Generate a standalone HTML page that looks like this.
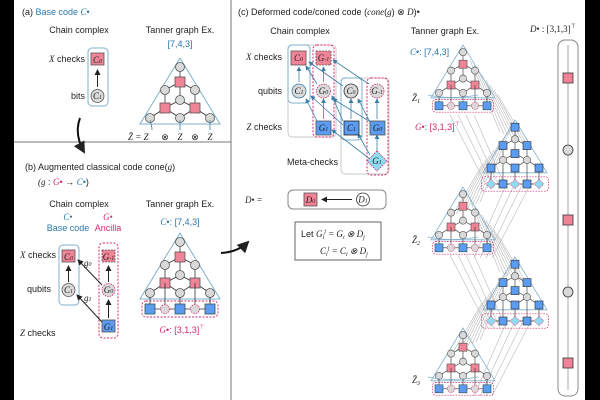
<!DOCTYPE html>
<html><head><meta charset="utf-8"><style>
html,body{margin:0;padding:0;background:#fff}
svg{display:block}
text{font-family:"Liberation Sans",sans-serif;font-size:9px;fill:#222}
.it{font-family:"Liberation Serif",serif;font-style:italic}
.b{fill:#2a78aa}.p{fill:#d42a70}
</style></head><body>
<svg width="600" height="400" viewBox="0 0 600 400" xmlns="http://www.w3.org/2000/svg">
<defs>
<marker id="ah" markerWidth="6" markerHeight="6" refX="5" refY="3" orient="auto"><path d="M0,0L6,3L0,6z" fill="#222"/></marker>
<marker id="ab" markerWidth="6" markerHeight="6" refX="5" refY="3" orient="auto"><path d="M0,0L6,3L0,6z" fill="#3b7fa6"/></marker>
<g id="tc">
<path d="M0,0L-40,66L40,66Z" fill="none" stroke="#7fb0cc" stroke-width="1"/>
<g stroke="#333" stroke-width="0.8">
<line x1="0" y1="9" x2="0" y2="42"/><line x1="0" y1="24" x2="-15" y2="32"/><line x1="0" y1="24" x2="15" y2="32"/>
<line x1="-15" y1="32" x2="-15" y2="50"/><line x1="15" y1="32" x2="15" y2="50"/>
<line x1="0" y1="42" x2="-15" y2="50"/><line x1="0" y1="42" x2="15" y2="50"/>
<line x1="-15" y1="50" x2="-30" y2="60"/><line x1="-15" y1="50" x2="0" y2="60"/>
<line x1="15" y1="50" x2="0" y2="60"/><line x1="15" y1="50" x2="30" y2="60"/>
</g>
<g fill="#d9d9d9" stroke="#555" stroke-width="0.8">
<circle cx="0" cy="9" r="4.5"/><circle cx="-15" cy="32" r="4.5"/><circle cx="15" cy="32" r="4.5"/><circle cx="0" cy="42" r="4.5"/>
<circle cx="-30" cy="60" r="4.5"/><circle cx="0" cy="60" r="4.5"/><circle cx="30" cy="60" r="4.5"/>
</g>
<g fill="#f08497" stroke="#555" stroke-width="0.8">
<rect x="-5" y="19" width="10" height="10"/><rect x="-20" y="45" width="10" height="10"/><rect x="10" y="45" width="10" height="10"/>
</g>
</g>
<g id="gbox">
<rect x="-38" y="68" width="76" height="16" rx="4" fill="none" stroke="#d42a70" stroke-dasharray="2,1.5" stroke-width="0.9"/>
<g stroke="#333" stroke-width="0.8"><line x1="-30" y1="64" x2="-30" y2="76"/><line x1="0" y1="64" x2="0" y2="76"/><line x1="30" y1="64" x2="30" y2="76"/><line x1="-30" y1="76" x2="30" y2="76"/><line x1="-15" y1="50" x2="-15" y2="76"/><line x1="15" y1="50" x2="15" y2="76"/></g>
<g fill="#5b9bf0" stroke="#355" stroke-width="0.8"><rect x="-35" y="71" width="10" height="10"/><rect x="-5" y="71" width="10" height="10"/><rect x="25" y="71" width="10" height="10"/></g>
<g fill="#d9d9d9" stroke="#d42a70" stroke-width="0.8" stroke-dasharray="1.5,1"><circle cx="-15" cy="76" r="4.5"/><circle cx="15" cy="76" r="4.5"/></g>
</g>
<g id="tg">
<path d="M0,0L-40,66L40,66Z" fill="none" stroke="#7fb0cc" stroke-width="1"/>
<g stroke="#333" stroke-width="0.8">
<line x1="0" y1="9" x2="0" y2="42"/><line x1="0" y1="24" x2="-15" y2="32"/><line x1="0" y1="24" x2="15" y2="32"/>
<line x1="-15" y1="32" x2="-15" y2="80"/><line x1="15" y1="32" x2="15" y2="80"/>
<line x1="0" y1="42" x2="-15" y2="50"/><line x1="0" y1="42" x2="15" y2="50"/>
<line x1="-15" y1="50" x2="-30" y2="60"/><line x1="-15" y1="50" x2="0" y2="60"/>
<line x1="15" y1="50" x2="0" y2="60"/><line x1="15" y1="50" x2="30" y2="60"/>
<line x1="-30" y1="60" x2="-30" y2="80"/><line x1="0" y1="60" x2="0" y2="80"/><line x1="30" y1="60" x2="30" y2="80"/>
<line x1="-30" y1="80" x2="30" y2="80"/>
</g>
<g fill="#d9d9d9" stroke="#555" stroke-width="0.8"><circle cx="0" cy="24" r="4.5"/><circle cx="-15" cy="50" r="4.5"/><circle cx="15" cy="50" r="4.5"/><circle cx="0" cy="42" r="4.5"/></g>
<g fill="#5b9bf0" stroke="#333" stroke-width="0.8">
<rect x="-5" y="4" width="10" height="10"/><rect x="-20" y="27" width="10" height="10"/><rect x="10" y="27" width="10" height="10"/><rect x="-5" y="37" width="10" height="10"/>
<rect x="-35" y="55" width="10" height="10"/><rect x="-5" y="55" width="10" height="10"/><rect x="25" y="55" width="10" height="10"/>
<rect x="-20" y="75" width="10" height="10"/><rect x="10" y="75" width="10" height="10"/>
</g>
<rect x="-42" y="71" width="84" height="18" rx="4" fill="none" stroke="#d42a70" stroke-dasharray="2,1.5" stroke-width="0.9"/>
<g fill="#8fdcf0" stroke="#d42a70" stroke-width="0.7" stroke-dasharray="1.5,1"><path d="M-30,74L-24,80L-30,86L-36,80Z"/><path d="M0,74L6,80L0,86L-6,80Z"/><path d="M30,74L36,80L30,86L24,80Z"/></g>
</g>
<g id="fan" stroke="#b9b9b9" stroke-width="0.6">
<line x1="0" y1="0" x2="30" y2="72"/><line x1="4" y1="5" x2="34" y2="74"/><line x1="8" y1="10" x2="38" y2="76"/><line x1="12" y1="15" x2="42" y2="78"/><line x1="16" y1="20" x2="46" y2="80"/><line x1="20" y1="25" x2="50" y2="82"/><line x1="24" y1="30" x2="54" y2="84"/><line x1="28" y1="35" x2="58" y2="86"/><line x1="-20" y1="55" x2="18" y2="128"/><line x1="-12" y1="55" x2="24" y2="128"/><line x1="-4" y1="55" x2="30" y2="128"/><line x1="4" y1="55" x2="36" y2="128"/>
</g>
</defs>

<rect x="0" y="0" width="14" height="400" fill="#000"/>
<rect x="585" y="0" width="15" height="400" fill="#000"/>
<line x1="14" y1="142" x2="231" y2="142" stroke="#777" stroke-width="1"/>
<line x1="231" y1="0" x2="231" y2="400" stroke="#777" stroke-width="1"/>

<!-- (a) -->
<text x="22" y="15" font-size="10">(a) <tspan class="b">Base code </tspan><tspan class="it b">C</tspan><tspan class="b">•</tspan></text>
<text x="79" y="33" text-anchor="middle">Chain complex</text>
<text x="180" y="33" text-anchor="middle">Tanner graph Ex.</text>
<text x="180" y="47" text-anchor="middle" class="b">[7,4,3]</text>
<rect x="88" y="48" width="20" height="58" rx="4" fill="none" stroke="#7fb0cc"/>
<rect x="91" y="53" width="13" height="12" fill="#f08497" stroke="#555" stroke-width="0.8"/>
<text x="97.5" y="63" text-anchor="middle" class="it" font-size="8">C<tspan font-size="6">0</tspan></text>
<circle cx="97.5" cy="96" r="6.5" fill="#d9d9d9" stroke="#555" stroke-width="0.8"/>
<text x="97.5" y="99" text-anchor="middle" class="it" font-size="8">C<tspan font-size="6">1</tspan></text>
<line x1="97.5" y1="87" x2="97.5" y2="70" stroke="#222" marker-end="url(#ah)"/>
<text x="85" y="62" text-anchor="end"><tspan class="it">X</tspan> checks</text>
<text x="85" y="99" text-anchor="end">bits</text>
<use href="#tc" x="180" y="58"/>
<g stroke="#3b7fa6" stroke-width="0.8" fill="none"><path d="M150,120Q152,126 152,130"/><path d="M180,120L180,130"/><path d="M210,120Q210,126 210,130"/></g>
<text x="128" y="140" class="it">Z̄ = Z</text>
<text x="165" y="140" text-anchor="middle">⊗</text>
<text x="180" y="140" text-anchor="middle" class="it">Z</text>
<text x="195" y="140" text-anchor="middle">⊗</text>
<text x="210" y="140" text-anchor="middle" class="it">Z</text>
<path d="M80,118 Q74,134 84,152" fill="none" stroke="#111" stroke-width="2" marker-end="url(#ah)"/>

<!-- (b) -->
<text x="25" y="170">(b) Augmented classical code  cone(<tspan class="it">g</tspan>)</text>
<text x="38" y="185"><tspan class="it">(g</tspan> : <tspan class="it p">G</tspan><tspan class="p">•</tspan> → <tspan class="it b">C</tspan><tspan class="b">•</tspan>)</text>
<text x="79" y="207" text-anchor="middle">Chain complex</text>
<text x="180" y="207" text-anchor="middle">Tanner graph Ex.</text>
<text x="68" y="220" text-anchor="middle" class="it b">C<tspan font-style="normal">•</tspan></text>
<text x="68" y="231" text-anchor="middle" class="b">Base code</text>
<text x="108" y="220" text-anchor="middle" class="it p">G<tspan font-style="normal">•</tspan></text>
<text x="108" y="231" text-anchor="middle" class="p">Ancilla</text>
<text x="20" y="258"><tspan class="it">X</tspan> checks</text>
<text x="27" y="292">qubits</text>
<text x="20" y="336"><tspan class="it">Z</tspan> checks</text>
<rect x="59" y="245" width="20" height="60" rx="4" fill="none" stroke="#7fb0cc"/>
<rect x="62" y="250" width="13" height="12" fill="#f08497" stroke="#555" stroke-width="0.8"/>
<text x="68.5" y="260" text-anchor="middle" class="it" font-size="8">C<tspan font-size="6">0</tspan></text>
<circle cx="68.5" cy="290" r="6.5" fill="#d9d9d9" stroke="#555" stroke-width="0.8"/>
<text x="68.5" y="293" text-anchor="middle" class="it" font-size="8">C<tspan font-size="6">1</tspan></text>
<line x1="68.5" y1="282" x2="68.5" y2="266" stroke="#222" marker-end="url(#ah)"/>
<rect x="99" y="243" width="19" height="95" rx="4" fill="none" stroke="#d42a70" stroke-dasharray="2,1.5"/>
<rect x="102" y="250" width="13" height="12" fill="#f08497" stroke="#555" stroke-width="0.8" stroke-dasharray="2,1"/>
<text x="108.5" y="260" text-anchor="middle" class="it" font-size="8">G<tspan font-size="6">-1</tspan></text>
<circle cx="108.5" cy="290" r="6.5" fill="#d9d9d9" stroke="#d42a70" stroke-width="0.8" stroke-dasharray="1.5,1"/>
<text x="108.5" y="293" text-anchor="middle" class="it" font-size="8">G<tspan font-size="6">0</tspan></text>
<rect x="102" y="320" width="13" height="12" fill="#5b9bf0" stroke="#555" stroke-width="0.8"/>
<text x="108.5" y="330" text-anchor="middle" class="it" font-size="8">G<tspan font-size="6">1</tspan></text>
<line x1="108.5" y1="282" x2="108.5" y2="266" stroke="#222" marker-end="url(#ah)"/>
<line x1="108.5" y1="318" x2="108.5" y2="300" stroke="#222" marker-end="url(#ah)"/>
<line x1="102" y1="285" x2="78" y2="260" stroke="#222" marker-end="url(#ah)"/>
<line x1="102" y1="322" x2="77" y2="295" stroke="#222" marker-end="url(#ah)"/>
<text x="84" y="266" class="it" font-size="8">g<tspan font-size="6">0</tspan></text>
<text x="84" y="301" class="it" font-size="8">g<tspan font-size="6">1</tspan></text>
<text x="180" y="225" text-anchor="middle" class="b"><tspan class="it">C</tspan>•: [7,4,3]</text>
<use href="#tc" x="180" y="233"/>
<use href="#gbox" x="180" y="233"/>
<text x="182" y="333" text-anchor="middle" class="p"><tspan class="it">G</tspan>•: [3,1,3]<tspan font-size="6" dy="-4">⊤</tspan></text>
<path d="M221,253 Q238,252 248,242" fill="none" stroke="#111" stroke-width="2" marker-end="url(#ah)"/>

<!-- (c) -->
<text x="238" y="15">(c) Deformed code/coned code  (<tspan class="it">cone</tspan>(<tspan class="it">g</tspan>) ⊗ <tspan class="it">D</tspan>)•</text>
<text x="300" y="34" text-anchor="middle">Chain complex</text>
<text x="445" y="34" text-anchor="middle">Tanner graph Ex.</text>
<text x="282" y="60" text-anchor="end"><tspan class="it">X</tspan> checks</text>
<text x="282" y="94" text-anchor="end">qubits</text>
<text x="282" y="130" text-anchor="end"><tspan class="it">Z</tspan> checks</text>
<text x="338" y="165" text-anchor="end">Meta-checks</text>
<rect x="288" y="45" width="48" height="92" rx="4" fill="none" stroke="#c8c8c8"/>
<rect x="341" y="78" width="48" height="96" rx="4" fill="#fff" stroke="#c8c8c8"/>
<rect x="288" y="45" width="22" height="58" rx="4" fill="none" stroke="#7fb0cc"/>
<rect x="313" y="45" width="21" height="92" rx="4" fill="none" stroke="#d42a70" stroke-dasharray="2,1.5"/>
<rect x="341" y="78" width="21" height="62" rx="4" fill="none" stroke="#7fb0cc"/>
<rect x="367" y="78" width="21" height="97" rx="4" fill="none" stroke="#d42a70" stroke-dasharray="2,1.5"/>
<g stroke="#3b7fa6" stroke-width="0.8" marker-end="url(#ab)">
<line x1="299" y1="82" x2="299" y2="67"/><line x1="323.5" y1="82" x2="323.5" y2="67"/><line x1="323.5" y1="119" x2="323.5" y2="99"/>
<line x1="317" y1="84" x2="306" y2="66"/><line x1="317" y1="121" x2="306" y2="99"/>
<line x1="351" y1="119" x2="351" y2="99"/><line x1="377" y1="119" x2="377" y2="99"/><line x1="377" y1="152" x2="377" y2="135"/>
<line x1="370" y1="122" x2="358" y2="99"/><line x1="370" y1="155" x2="358" y2="134"/>
<line x1="343" y1="86" x2="309" y2="62"/><line x1="343" y1="121" x2="332" y2="96"/><line x1="369" y1="84" x2="333" y2="60"/>
<line x1="369" y1="121" x2="333" y2="99"/><line x1="370" y1="159" x2="332" y2="130"/><line x1="343" y1="125" x2="311" y2="96"/>
</g>
<rect x="291" y="51" width="15" height="14" fill="#f08497" stroke="#555" stroke-width="0.8"/>
<text x="298.5" y="61" text-anchor="middle" class="it" font-size="8">C<tspan font-size="6">0</tspan></text>
<rect x="316" y="51" width="15" height="14" fill="#f08497" stroke="#555" stroke-width="0.8" stroke-dasharray="2,1"/>
<text x="323.5" y="61" text-anchor="middle" class="it" font-size="8">G<tspan font-size="6">-1</tspan></text>
<circle cx="299" cy="91" r="7" fill="#d9d9d9" stroke="#3b7fa6" stroke-width="0.8"/>
<text x="299" y="94" text-anchor="middle" class="it" font-size="8">C<tspan font-size="6">1</tspan></text>
<circle cx="323.5" cy="91" r="7" fill="#d9d9d9" stroke="#d42a70" stroke-width="0.8" stroke-dasharray="1.5,1"/>
<text x="323.5" y="94" text-anchor="middle" class="it" font-size="8">G<tspan font-size="6">0</tspan></text>
<rect x="316" y="121" width="15" height="14" fill="#5b9bf0" stroke="#555" stroke-width="0.8"/>
<text x="323.5" y="131" text-anchor="middle" class="it" font-size="8">G<tspan font-size="6">1</tspan></text>
<circle cx="351" cy="91" r="7" fill="#d9d9d9" stroke="#333" stroke-width="0.8"/>
<text x="351" y="94" text-anchor="middle" class="it" font-size="8">C<tspan font-size="6">0</tspan></text>
<circle cx="377" cy="91" r="7" fill="#d9d9d9" stroke="#d42a70" stroke-width="0.8" stroke-dasharray="1.5,1"/>
<text x="377" y="94" text-anchor="middle" class="it" font-size="8">G<tspan font-size="6">-1</tspan></text>
<rect x="344" y="121" width="15" height="14" fill="#5b9bf0" stroke="#222" stroke-width="0.8"/>
<text x="351.5" y="131" text-anchor="middle" class="it" font-size="8">C<tspan font-size="6">1</tspan></text>
<rect x="370" y="121" width="15" height="14" fill="#5b9bf0" stroke="#555" stroke-width="0.8"/>
<text x="377.5" y="131" text-anchor="middle" class="it" font-size="8">G<tspan font-size="6">0</tspan></text>
<path d="M377,151L387,161L377,171L367,161Z" fill="#8fdcf0" stroke="#d42a70" stroke-width="0.8" stroke-dasharray="1.5,1"/>
<text x="377" y="164" text-anchor="middle" class="it" font-size="8">G<tspan font-size="6">1</tspan></text>

<text x="262" y="203" text-anchor="end" class="it">D<tspan font-style="normal">• =</tspan></text>
<rect x="288" y="190" width="98" height="19" rx="5" fill="none" stroke="#888"/>
<rect x="304" y="193" width="13" height="13" fill="#f08497" stroke="#555" stroke-width="0.8"/>
<text x="310.5" y="203" text-anchor="middle" class="it" font-size="8">D<tspan font-size="6">0</tspan></text>
<line x1="352" y1="199.5" x2="322" y2="199.5" stroke="#222" marker-end="url(#ah)"/>
<circle cx="363" cy="199.5" r="6.5" fill="#fff" stroke="#333" stroke-width="0.8"/>
<text x="363" y="202.5" text-anchor="middle" class="it" font-size="8">D<tspan font-size="6">1</tspan></text>
<rect x="295" y="222" width="86" height="38" fill="#fff" stroke="#666"/>
<text x="301" y="237">Let  <tspan class="it">G<tspan font-size="6" dy="2">i</tspan><tspan dy="-6" font-size="6">j</tspan><tspan dy="4"> = G<tspan font-size="6" dy="2">i</tspan><tspan dy="-2"> ⊗ D<tspan font-size="6" dy="2">j</tspan></tspan></tspan></tspan></text>
<text x="320" y="254" class="it">C<tspan font-size="6" dy="2">i</tspan><tspan dy="-6" font-size="6">j</tspan><tspan dy="4"> = C<tspan font-size="6" dy="2">i</tspan><tspan dy="-2"> ⊗ D<tspan font-size="6" dy="2">j</tspan></tspan></tspan></text>

<!-- tanner graphs (c) -->
<use href="#fan" x="470" y="60"/>
<use href="#fan" transform="translate(510,130) scale(-1,1)"/>
<use href="#fan" x="470" y="200"/>
<use href="#fan" transform="translate(510,268) scale(-1,1)"/>
<g transform="translate(463,45) scale(0.8)"><use href="#tc"/><use href="#gbox"/></g>
<g transform="translate(515,120) scale(0.8)"><use href="#tg"/></g>
<g transform="translate(463,187) scale(0.8)"><use href="#tc"/><use href="#gbox"/></g>
<g transform="translate(515,257) scale(0.8)"><use href="#tg"/></g>
<g transform="translate(463,328) scale(0.8)"><use href="#tc"/><use href="#gbox"/></g>
<text x="410" y="55" class="b"><tspan class="it">C</tspan>•: [7,4,3]</text>
<text x="415" y="130" class="p"><tspan class="it">G</tspan>•: [3,1,3]<tspan font-size="6" dy="-4">⊤</tspan></text>
<g fill="none" stroke="#7fb0cc" stroke-width="0.7"><path d="M428,95Q450,100 478,95"/><path d="M428,237Q450,242 478,237"/><path d="M428,377Q450,382 478,377"/></g>
<text x="412" y="101" class="it">Z̄<tspan font-size="6" dy="2">1</tspan></text>
<text x="412" y="243" class="it">Z̄<tspan font-size="6" dy="2">2</tspan></text>
<text x="412" y="383" class="it">Z̄<tspan font-size="6" dy="2">3</tspan></text>

<!-- D bar -->
<text x="530" y="32" class="it">D<tspan font-style="normal">• : [3,1,3]</tspan><tspan font-style="normal" font-size="6" dy="-4">⊤</tspan></text>
<rect x="558" y="40" width="20" height="356" rx="7" fill="#fff" stroke="#888"/>
<line x1="568" y1="45" x2="568" y2="390" stroke="#aaa"/>
<rect x="563" y="73" width="10" height="10" fill="#f08497" stroke="#333" stroke-width="0.8"/>
<circle cx="568" cy="150" r="5" fill="#d9d9d9" stroke="#333" stroke-width="0.8"/>
<rect x="563" y="215" width="10" height="10" fill="#f08497" stroke="#333" stroke-width="0.8"/>
<circle cx="568" cy="292" r="5" fill="#d9d9d9" stroke="#333" stroke-width="0.8"/>
<rect x="563" y="358" width="10" height="10" fill="#f08497" stroke="#333" stroke-width="0.8"/>
</svg>
</body></html>
